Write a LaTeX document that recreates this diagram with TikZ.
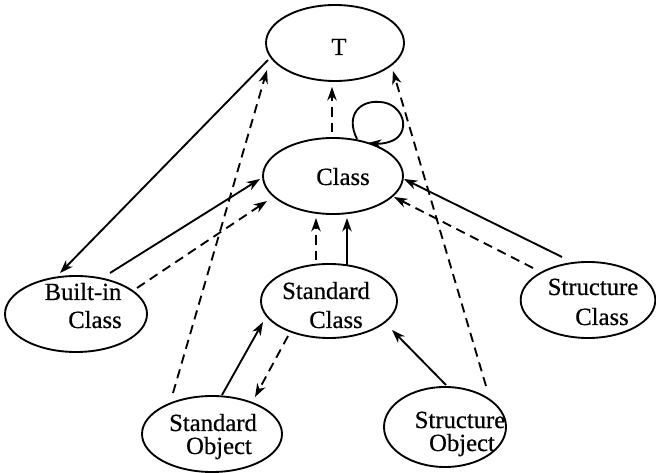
\documentclass[tikz,border=0pt]{standalone}
\usepackage{fontspec}
\setmainfont{Liberation Serif}[FakeBold=0.6]
\usetikzlibrary{arrows.meta,calc,shapes.geometric}

\tikzset{
  cell/.style={draw, ellipse, line width=1.4pt, inner sep=0pt, outer sep=0pt},
  word/.style={anchor=base, inner sep=0pt, font=\fontsize{18.5}{20}\selectfont},
  upper/.style={word, text depth=0pt},
  link/.style={line width=1.4pt, -{Stealth[length=10pt,width=7pt,inset=3pt]}},
  weak/.style={link, dash pattern=on 7pt off 4.5pt},
}

\begin{document}
\begin{tikzpicture}[x=0.75pt, y=-0.75pt]
\useasboundingbox (0,0) rectangle (656,473);

% class nodes
\node[cell, minimum width=103.5pt, minimum height=57pt]   (T)   at (335,43)  {};
\node[cell, minimum width=105pt,   minimum height=57pt]   (cls) at (333,176) {};
\node[cell, minimum width=106.5pt, minimum height=57pt]   (bic) at (76,314)  {};
\node[cell, minimum width=102pt,   minimum height=55.5pt] (sc)  at (329,301) {};
\node[cell, minimum width=101pt,   minimum height=57pt]   (stc) at (588,300) {};
\node[cell, minimum width=105pt,   minimum height=57pt]   (so)  at (212,434) {};
\node[cell, minimum width=91.5pt,  minimum height=60pt]   (sto) at (445,427) {};

% labels
\node[word]  (tT)   at ($(T)+(4,12)$)    {T};
\node[word]  (tcls) at ($(cls)+(10,9)$)  {Class};
\node[upper] (tbi1) at ($(bic)+(7,-14)$) {Built-in};
\node[word]  (tbi2) at ($(bic)+(19,14)$) {Class};
\node[upper] (tsc1) at ($(sc)+(-3,-2)$)  {Standard};
\node[word]  (tsc2) at ($(sc)+(7,27)$)   {Class};
\node[upper] (tst1) at ($(stc)+(5,-5)$)  {Structure};
\node[word]  (tst2) at ($(stc)+(14,25)$) {Class};
\node[upper] (tso1) at ($(so)+(1,-3)$)   {Standard};
\node[word]  (tso2) at ($(so)+(7,20)$)   {Object};
\node[upper] (tsb1) at ($(sto)+(15,1)$)  {Structure};
\node[word]  (tsb2) at ($(sto)+(17,24)$) {Object};

% solid links
\draw[link] ($(T)+(-67,17)$)   -- ($(bic)+(-16,-41)$);
\draw[link] ($(bic)+(34,-41)$) -- ($(cls)+(-73,3)$);
\draw[link] ($(stc)+(-26,-43)$) -- ($(cls)+(71,3)$);
\draw[link] ($(sc)+(18,-36)$)  -- ($(cls)+(14,42)$);
\draw[link] ($(so)+(10,-39)$)  -- ($(sc)+(-66,21)$);
\draw[link] ($(sto)+(1,-42)$)  -- ($(sc)+(63,29)$);

% dashed links
\draw[weak] ($(bic)+(61,-26)$) -- ($(cls)+(-66,25)$);
\draw[weak] ($(so)+(-39,-41)$) -- ($(T)+(-68,27)$);
\draw[weak] ($(cls)+(-1,-44)$) -- ($(T)+(-3,44)$);
\draw[weak] ($(sto)+(41,-41)$) -- ($(T)+(58,28)$);
\draw[weak] ($(stc)+(-55,-32)$) -- ($(cls)+(61,21)$);
\draw[weak] ($(sc)+(-13,-41)$) -- ($(cls)+(-17,42)$);
\draw[weak] ($(sc)+(-41,35)$)  -- ($(so)+(43,-37)$);

% self loop on Class
\begin{scope}[shift={(cls.center)}]
  \draw[link] (24,-37) .. controls (12,-61) and (27,-76) .. (47,-74)
              .. controls (67,-73) and (77,-51) .. (65,-39)
              .. controls (59,-33) and (47,-32) .. (35,-33);
\end{scope}
\end{tikzpicture}
\end{document}
